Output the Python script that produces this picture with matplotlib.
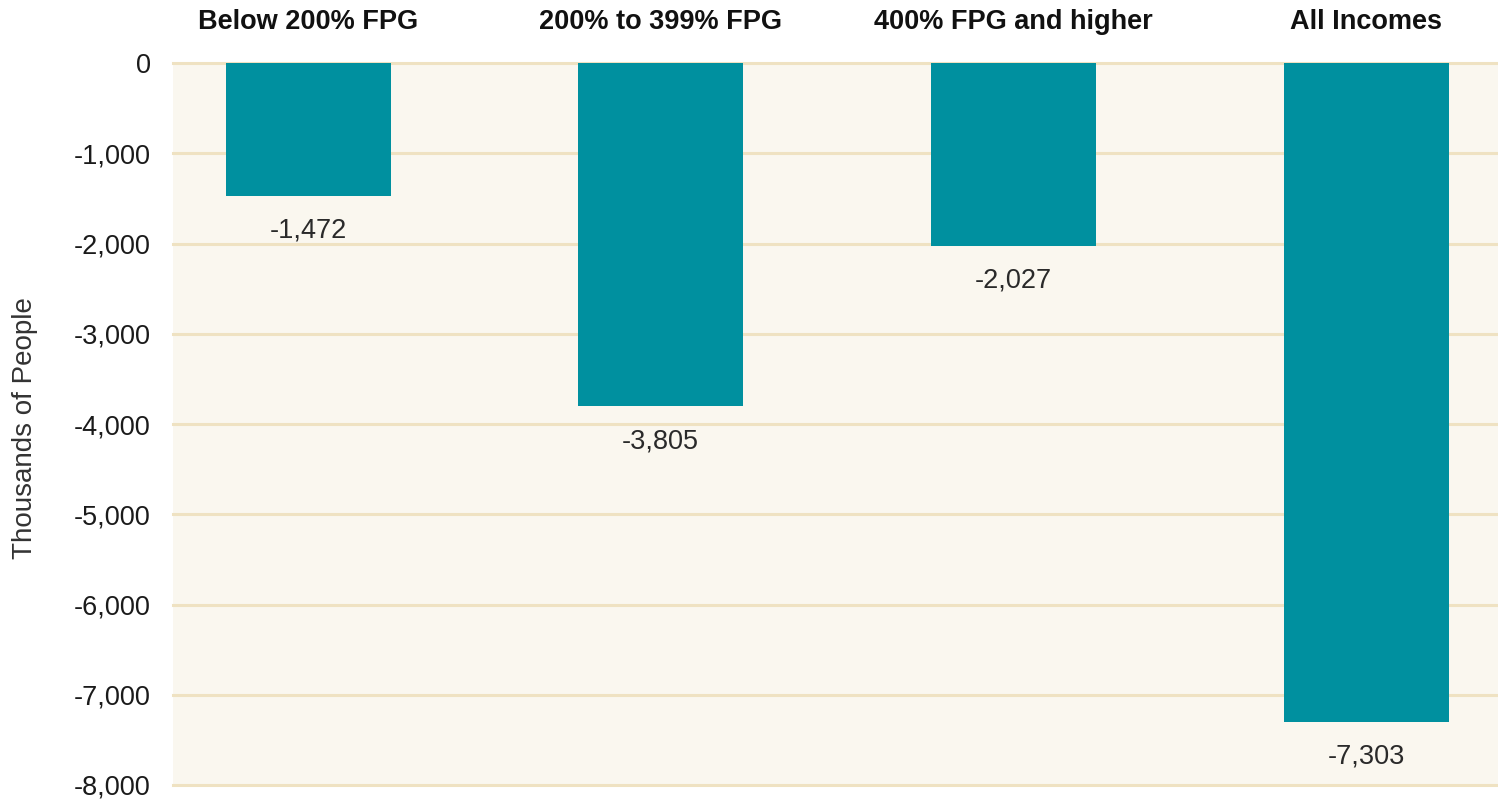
import matplotlib
matplotlib.use("Agg")
import matplotlib.pyplot as plt
from matplotlib.ticker import FuncFormatter

categories = ["Below 200% FPG", "200% to 399% FPG", "400% FPG and higher", "All Incomes"]
values = [-1472, -3805, -2027, -7303]
yticks = [0, -1000, -2000, -3000, -4000, -5000, -6000, -7000, -8000]

plt.rcParams['font.family'] = ['Liberation Sans', 'DejaVu Sans']

fig = plt.figure(figsize=(14.98, 8.01), dpi=100)
ax = fig.add_axes([173/1498, 1 - 785/801, (1498-173)/1498, (785-63)/801])
ax.set_facecolor('#faf7ef')

x = list(range(len(categories)))
ax.bar(x, values, width=0.468, color='#00909f', zorder=3)
ax.set_xlim(-0.383, 3.374)
ax.set_ylim(-8000, 0)
ax.set_yticks(yticks)
ax.yaxis.set_major_formatter(FuncFormatter(lambda v, p: f"{int(v):,}"))
ax.tick_params(axis='y', length=0, pad=16, labelsize=19.5, labelcolor='#1a1a1a')
ax.set_xticks([])
for s in ax.spines.values():
    s.set_visible(False)
ax.grid(axis='y', color='#efe2c2', linewidth=2.2, zorder=1)
ax.set_axisbelow(True)
for gl in ax.get_ygridlines():
    gl.set_clip_on(False)

for xi, v, c in zip(x, values, categories):
    ax.annotate(f"{v:,}", (xi, v), xytext=(0, -25), textcoords='offset points',
                ha='center', va='center', fontsize=19.5, color='#2a2a2a')
    ax.annotate(c, (xi, 0), xytext=(0, 29.5), textcoords='offset points',
                ha='center', va='center', fontsize=19.5, fontweight='bold', color='#111111',
                annotation_clip=False)

fig.text(25/1498, 1 - 428/801, "Thousands of People", rotation=90, ha='center', va='center',
         fontsize=20, color='#333333')

fig.savefig("out.png", dpi=100, facecolor='white')
